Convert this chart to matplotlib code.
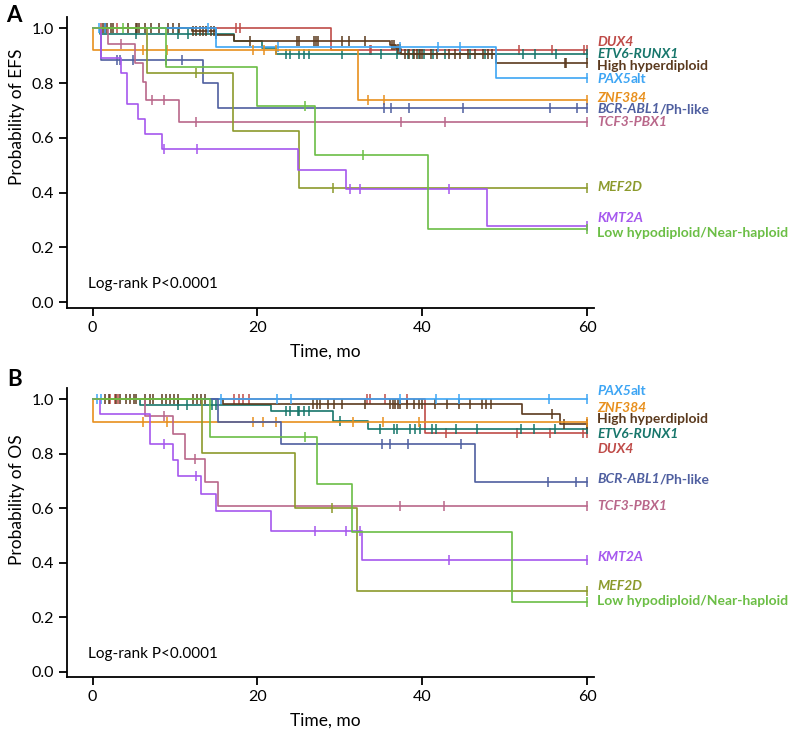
import numpy as np
import matplotlib
matplotlib.use('Agg')
import matplotlib.pyplot as plt

plt.rcParams['font.family'] = ['Lato', 'DejaVu Sans']

# group labels: (italic part, upright part)
groups = ['DUX4', 'ETV6-RUNX1', 'High hyperdiploid', 'PAX5alt', 'ZNF384',
          'BCR-ABL1/Ph-like', 'TCF3-PBX1', 'MEF2D', 'KMT2A', 'Low hypodiploid/Near-haploid']
label_italic = ['DUX4', 'ETV6-RUNX1', '', 'PAX5', 'ZNF384', 'BCR-ABL1', 'TCF3-PBX1', 'MEF2D', 'KMT2A', '']
label_plain = ['', '', 'High hyperdiploid', 'alt', '', '/Ph-like', '', '', '', 'Low hypodiploid/Near-haploid']
colors = ['#BF4B48', '#17766B', '#5B3A1E', '#3DA5F4', '#E8901E',
          '#4F5FA0', '#B9678A', '#8C9A2C', '#A557EE', '#6BBE45']

# ---------------- EFS (panel A) ----------------
efs_dux4_t = [0, 28.9]
efs_dux4_s = [1.0, 0.921]
efs_dux4_c = [1.0, 3.0, 17.4, 17.9, 33.6, 33.8, 51.7, 55.7, 59.6, 60]

efs_etv6_t = [0, 0.9, 17.1, 20.5, 22.3]
efs_etv6_s = [1.0, 0.98, 0.954, 0.93, 0.906]
efs_etv6_c = [5.3, 10.4, 11.6, 15.0, 23.5, 23.9, 25.1, 25.6, 26.2, 30.2, 35.0, 36.9, 38.3, 38.9,
              39.6, 40.2, 41.3, 42.8, 45.8, 47.6, 52.2, 53.7, 56.2, 60]

efs_hh_t = [0, 12.0, 15.0, 17.2, 36.1, 36.8, 37.4, 49.0]
efs_hh_s = [1.0, 0.99, 0.975, 0.954, 0.94, 0.925, 0.906, 0.873]
efs_hh_c = [1.2, 1.5, 1.8, 2.2, 2.5, 4.3, 5.2, 5.4, 5.6, 6.3, 7.1, 8.1, 9.1, 9.8, 10.5,
            12.2, 12.6, 13.0, 13.4, 13.8, 14.4, 14.7, 19.1, 24.8, 25.1, 26.8, 27.1, 27.4,
            30.2, 31.1, 33.0, 36.3, 36.6, 37.0, 37.3, 37.9, 38.4, 39.0, 39.4, 39.7, 40.0,
            41.0, 41.8, 43.2, 44.0, 44.6, 45.6, 46.4, 47.4, 48.0, 48.4, 57.3, 57.5, 60]

efs_pax5_t = [0, 15.0, 49.0]
efs_pax5_s = [1.0, 0.931, 0.818]
efs_pax5_c = [0.8, 1.5, 14.0, 22.5, 37.3, 41.9, 44.6, 60]

efs_znf384_t = [0, 0.01, 32.2]
efs_znf384_s = [1.0, 0.921, 0.739]
efs_znf384_c = [6.1, 9.0, 19.5, 20.8, 22.3, 33.4, 35.4, 60]

efs_bcr_t = [0, 1.0, 13.4, 15.2]
efs_bcr_s = [1.0, 0.885, 0.80, 0.708]
efs_bcr_c = [2.9, 3.3, 4.9, 8.9, 10.8, 35.3, 36.2, 38.4, 44.9, 55.5, 58.8, 60]

efs_tcf3_t = [0, 1.9, 5.1, 6.1, 6.5, 10.5]
efs_tcf3_s = [1.0, 0.942, 0.873, 0.805, 0.739, 0.659]
efs_tcf3_c = [3.4, 7.2, 8.7, 12.5, 37.4, 42.8, 60]

efs_mef2d_t = [0, 6.6, 17.0, 25.0]
efs_mef2d_s = [1.0, 0.838, 0.626, 0.418]
efs_mef2d_c = [12.5, 29.2, 60]

efs_kmt2a_t = [0, 1.0, 3.4, 4.2, 5.5, 6.3, 8.4, 24.9, 30.8, 47.8]
efs_kmt2a_s = [1.0, 0.891, 0.836, 0.723, 0.669, 0.614, 0.558, 0.484, 0.415, 0.277]
efs_kmt2a_c = [8.7, 12.7, 31.2, 32.5, 43.3, 60]

efs_low_t = [0, 8.9, 20.0, 27.0, 40.7]
efs_low_s = [1.0, 0.860, 0.718, 0.538, 0.266]
efs_low_c = [3.7, 25.8, 32.8, 60]

efs_label_y = [0.951, 0.907, 0.864, 0.814, 0.745, 0.705, 0.659, 0.419, 0.306, 0.251]

# ---------------- OS (panel B) ----------------
os_dux4_t = [0, 40.3]
os_dux4_s = [1.0, 0.875]
os_dux4_c = [2.1, 2.7, 3.1, 17.1, 17.7, 18.3, 19.0, 33.3, 33.6, 35.5, 38.2, 42.9, 51.5, 55.5, 59.5, 60]

os_etv6_t = [0, 5.7, 21.7, 29.2, 33.4]
os_etv6_s = [1.0, 0.981, 0.956, 0.922, 0.891]
os_etv6_c = [10.4, 11.5, 14.5, 15.0, 23.5, 23.9, 24.9, 25.1, 25.7, 26.3, 30.0, 34.9, 36.6, 36.9,
             38.5, 39.1, 39.7, 41.2, 41.7, 44.1, 46.7, 52.0, 53.6, 56.1, 60]

os_hh_t = [0, 15.8, 52.1, 56.7]
os_hh_s = [1.0, 0.983, 0.947, 0.908]
os_hh_c = [1.5, 2.0, 2.8, 3.3, 4.1, 4.5, 5.0, 5.3, 6.3, 7.0, 7.3, 8.4, 8.9, 9.4, 9.9, 10.4,
           12.2, 12.7, 13.1, 13.6, 26.7, 27.2, 27.6, 28.6, 29.3, 30.2, 33.0, 36.1, 36.4, 36.7,
           37.0, 37.3, 38.2, 39.0, 39.6, 40.0, 41.6, 43.0, 44.5, 45.8, 47.2, 47.7, 48.3, 55.8,
           57.2, 60]

os_pax5_t = [0]
os_pax5_s = [1.0]
os_pax5_c = [0.5, 1.0, 15.6, 22.4, 24.1, 37.3, 41.7, 44.5, 55.4, 60]

os_znf384_t = [0, 0.01]
os_znf384_s = [1.0, 0.918]
os_znf384_c = [6.1, 9.0, 19.4, 20.7, 22.2, 31.6, 35.2, 39.6, 60]

os_bcr_t = [0, 15.2, 22.9, 46.4]
os_bcr_s = [1.0, 0.917, 0.837, 0.698]
os_bcr_c = [35.1, 36.1, 38.3, 44.7, 55.3, 58.7, 60]

os_tcf3_t = [0, 6.3, 9.8, 11.2, 13.6, 15.2]
os_tcf3_s = [1.0, 0.938, 0.871, 0.780, 0.695, 0.609]
os_tcf3_c = [8.7, 12.4, 37.3, 42.6, 60]

os_mef2d_t = [0, 13.3, 24.6, 32.1]
os_mef2d_s = [1.0, 0.802, 0.603, 0.295]
os_mef2d_c = [29.0, 60]

os_kmt2a_t = [0, 0.9, 7.0, 9.7, 10.3, 13.2, 15.0, 21.6, 32.7]
os_kmt2a_s = [1.0, 0.947, 0.837, 0.776, 0.717, 0.652, 0.589, 0.518, 0.411]
os_kmt2a_c = [8.7, 12.6, 27.0, 30.7, 32.5, 43.2, 60]

os_low_t = [0, 14.2, 27.2, 31.5, 50.9]
os_low_s = [1.0, 0.861, 0.691, 0.512, 0.256]
os_low_c = [25.8, 60]

os_label_y = [0.819, 0.871, 0.928, 1.030, 0.970, 0.707, 0.609, 0.314, 0.420, 0.260]

efs_curves = [(efs_dux4_t, efs_dux4_s, efs_dux4_c), (efs_etv6_t, efs_etv6_s, efs_etv6_c),
              (efs_hh_t, efs_hh_s, efs_hh_c), (efs_pax5_t, efs_pax5_s, efs_pax5_c),
              (efs_znf384_t, efs_znf384_s, efs_znf384_c), (efs_bcr_t, efs_bcr_s, efs_bcr_c),
              (efs_tcf3_t, efs_tcf3_s, efs_tcf3_c), (efs_mef2d_t, efs_mef2d_s, efs_mef2d_c),
              (efs_kmt2a_t, efs_kmt2a_s, efs_kmt2a_c), (efs_low_t, efs_low_s, efs_low_c)]
os_curves = [(os_dux4_t, os_dux4_s, os_dux4_c), (os_etv6_t, os_etv6_s, os_etv6_c),
             (os_hh_t, os_hh_s, os_hh_c), (os_pax5_t, os_pax5_s, os_pax5_c),
             (os_znf384_t, os_znf384_s, os_znf384_c), (os_bcr_t, os_bcr_s, os_bcr_c),
             (os_tcf3_t, os_tcf3_s, os_tcf3_c), (os_mef2d_t, os_mef2d_s, os_mef2d_c),
             (os_kmt2a_t, os_kmt2a_s, os_kmt2a_c), (os_low_t, os_low_s, os_low_c)]


def km(ax, t, s, cens, color):
    x = list(t) + [60]
    y = list(s) + [s[-1]]
    ax.step(x, y, where='post', color=color, lw=1.2)
    idx = np.searchsorted(t, cens, side='right') - 1
    ax.plot(cens, np.array(s)[idx], ls='none', marker='|', ms=7, mew=1.1, color=color)


def panel(ax, curves, label_y, ylow):
    for (t, s, c), col in zip(curves, colors):
        km(ax, t, s, c, col)
    for it, pl, ly, col in zip(label_italic, label_plain, label_y, colors):
        if it:
            txt = ax.text(61.2, ly, it, color=col, fontsize=10, fontweight='bold',
                          style='italic', va='center', ha='left', clip_on=False)
            if pl:
                ax.annotate(pl, xy=(1, 0.5), xycoords=txt, va='center', ha='left',
                            color=col, fontsize=10, fontweight='bold')
        else:
            ax.text(61.2, ly, pl, color=col, fontsize=10, fontweight='bold',
                    va='center', ha='left', clip_on=False)
    ax.text(-0.6, 0.066, 'Log-rank P<0.0001', fontsize=11, va='center', ha='left')
    ax.set_xlim(-3.13, 60.8)
    ax.set_ylim(ylow, 1.04)
    ax.set_xticks([0, 20, 40, 60])
    ax.set_yticks([0, 0.2, 0.4, 0.6, 0.8, 1.0])
    ax.set_yticklabels(['0.0', '0.2', '0.4', '0.6', '0.8', '1.0'])
    ax.spines['top'].set_visible(False)
    ax.spines['right'].set_visible(False)
    ax.spines['left'].set_linewidth(1.3)
    ax.spines['bottom'].set_linewidth(1.3)
    ax.tick_params(direction='out', length=6, width=1.3, labelsize=11.5)


fig = plt.figure(figsize=(7.97, 7.35), dpi=100)
ax1 = fig.add_axes([0.0839, 0.5816, 0.661, 0.3946])
ax2 = fig.add_axes([0.0839, 0.0793, 0.661, 0.3922])
panel(ax1, efs_curves, efs_label_y, -0.02)
panel(ax2, os_curves, os_label_y, -0.018)

fig.text(0.408, 1 - 352 / 735, 'Time, mo', fontsize=12.5, ha='center', va='center')
fig.text(0.408, 1 - 721 / 735, 'Time, mo', fontsize=12.5, ha='center', va='center')
fig.text(0.021, 1 - 117 / 735, 'Probability of EFS', fontsize=12.5, rotation=90, ha='center', va='center')
fig.text(0.021, 1 - 500 / 735, 'Probability of OS', fontsize=12.5, rotation=90, ha='center', va='center')
fig.text(0.018, 1 - 16 / 735, 'A', fontsize=16, fontweight='bold', ha='center', va='center')
fig.text(0.018, 1 - 379 / 735, 'B', fontsize=16, fontweight='bold', ha='center', va='center')

fig.savefig('out.png', dpi=100)
